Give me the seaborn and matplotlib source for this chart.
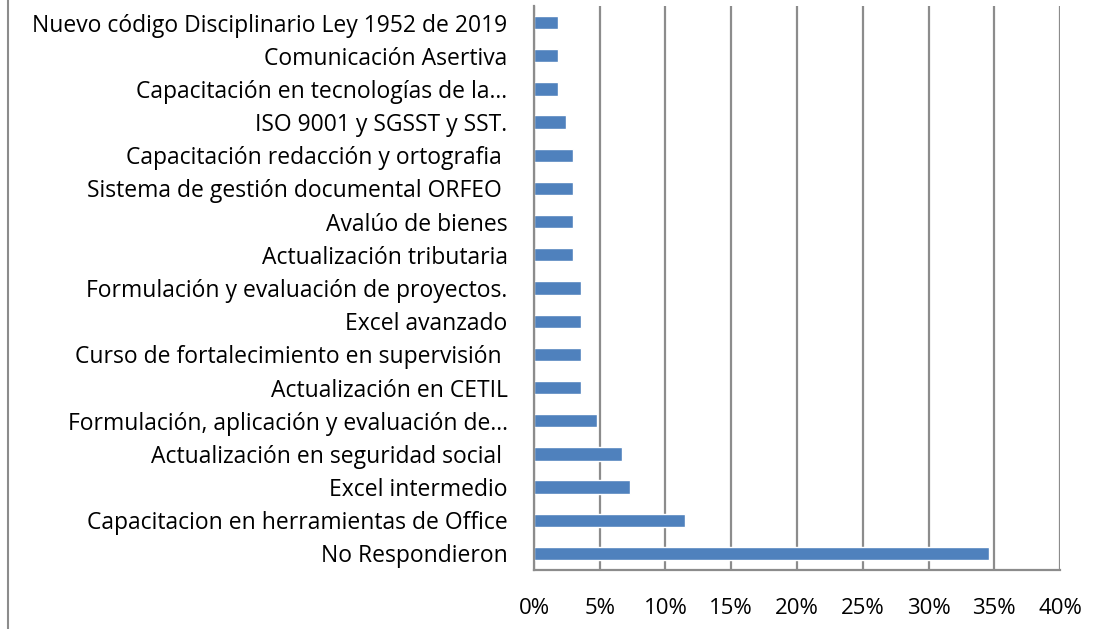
import matplotlib
matplotlib.use("Agg")
import matplotlib.pyplot as plt
import seaborn as sns
import pandas as pd
from matplotlib.lines import Line2D
from matplotlib.ticker import PercentFormatter

# Temas de capacitación (de arriba hacia abajo)
temas = [
    "Nuevo código Disciplinario Ley 1952 de 2019",
    "Comunicación Asertiva",
    "Capacitación en tecnologías de la…",
    "ISO 9001 y SGSST y SST.",
    "Capacitación redacción y ortografia ",
    "Sistema de gestión documental ORFEO ",
    "Avalúo de bienes",
    "Actualización tributaria",
    "Formulación y evaluación de proyectos.",
    "Excel avanzado",
    "Curso de fortalecimiento en supervisión ",
    "Actualización en CETIL",
    "Formulación, aplicación y evaluación de…",
    "Actualización en seguridad social ",
    "Excel intermedio",
    "Capacitacion en herramientas de Office",
    "No Respondieron",
]
porcentajes = [1.8, 1.8, 1.8, 2.4, 3.0, 3.0, 3.0, 3.0, 3.6, 3.6, 3.6, 3.6,
               4.8, 6.7, 7.3, 11.5, 34.6]
ticks_x = [0, 5, 10, 15, 20, 25, 30, 35, 40]

data = pd.DataFrame({"tema": temas, "pct": porcentajes})

sns.set_style("white")
plt.rcParams['font.family'] = ['Open Sans', 'DejaVu Sans']

fig = plt.figure(figsize=(10.96, 6.29), dpi=100)
ax = fig.add_axes([0.4872, 0.0938, 0.4800, 0.8967])

sns.barplot(data=data, x="pct", y="tema", orient="h", color="#4F81BD",
            saturation=1, width=0.4, ax=ax)

ax.set_xlim(0, 40)
ax.set_ylim(16.5, -0.5)
ax.set_xticks(ticks_x)
ax.xaxis.set_major_formatter(PercentFormatter(decimals=0))
ax.grid(axis="x", color="#8C8C8C", linewidth=1.6)
ax.set_axisbelow(True)
ax.set_xlabel("")
ax.set_ylabel("")
ax.tick_params(axis="x", length=0, pad=20, labelsize=16, labelcolor="black")
ax.tick_params(axis="y", length=0, pad=19, labelsize=16.5, labelcolor="black")
for s in ["top", "right"]:
    ax.spines[s].set_visible(False)
for s in ["left", "bottom"]:
    ax.spines[s].set_color("#8C8C8C")
    ax.spines[s].set_linewidth(1.6)

# borde izquierdo del gráfico
fig.add_artist(Line2D([8 / 1096, 8 / 1096], [0, 1], color="#8C8C8C",
                      linewidth=1.5, transform=fig.transFigure))

fig.savefig("out.png", dpi=100)
